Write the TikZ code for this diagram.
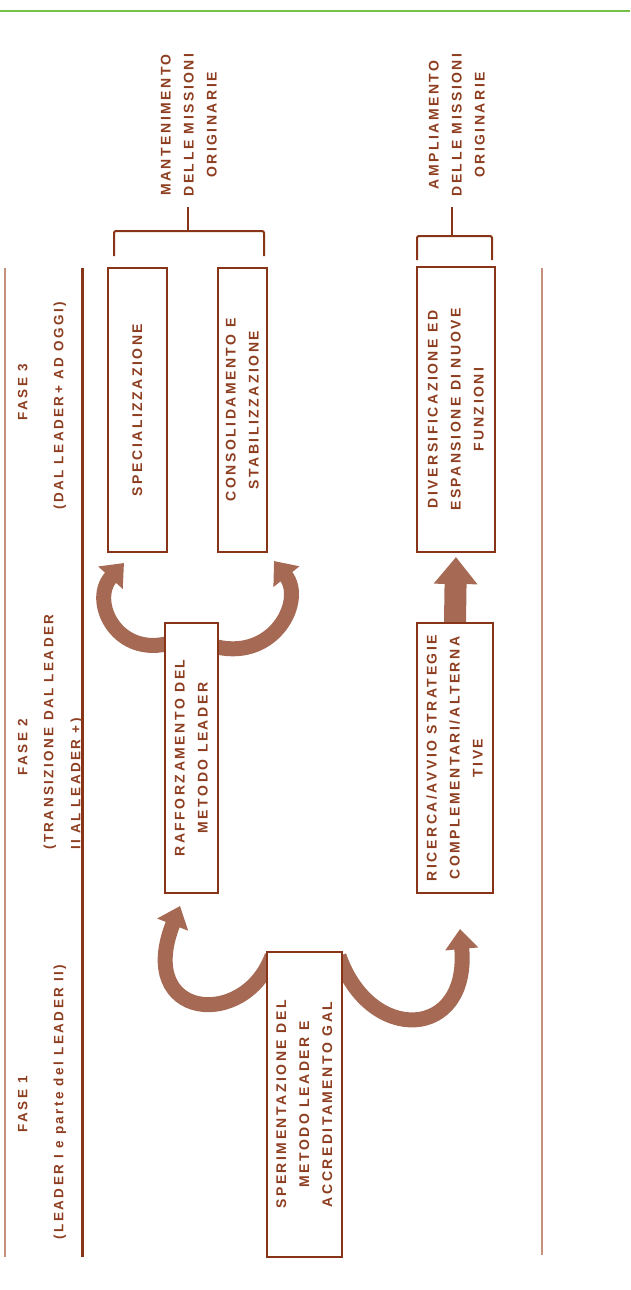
\documentclass[tikz,border=0pt]{standalone}
\usepackage{fontspec}
\newfontfamily\gafont{Liberation Sans}[LetterSpace=18]
\usetikzlibrary{arrows.meta,calc,backgrounds}
\definecolor{boxcol}{RGB}{135,52,24}
\definecolor{txtcol}{RGB}{142,62,32}
\definecolor{arrcol}{RGB}{166,106,84}
\definecolor{rulecol}{RGB}{199,144,124}
\definecolor{topgreen}{RGB}{119,192,75}
\newcommand{\vlab}[2][c]{\rotatebox{90}{\begin{tabular}{@{}#1@{}}#2\end{tabular}}}

\begin{document}
\begin{tikzpicture}[x=1pt, y=-1pt,
    every node/.style={font={\gafont\bfseries\fontsize{14}{23}\selectfont}, text=txtcol},
    stage/.style={draw=boxcol, line width=2pt, fill=white, inner sep=0pt},
    lbl/.style={inner sep=2pt},
    head/.style={inner sep=2pt, font={\gafont\bfseries\fontsize{13.5}{27}\selectfont}},
    clamp/.style={draw=boxcol, line width=2pt, rounded corners=2pt},
    curvearrow/.style={draw=arrcol, line width=15pt, -{Triangle[width=32pt,length=20pt]}},
    blockarrow/.style={draw=arrcol, line width=22pt, -{Triangle[width=42pt,length=27pt]}, shorten >=4pt}]
    \useasboundingbox (0,0) rectangle (630,1290);
    \draw[topgreen, line width=2.5pt] (0,11) -- (630,11);
    \draw[rulecol, line width=1.5pt] (5,268) -- (5,1257);
    \draw[boxcol, line width=3pt] (82,268) -- (82,1257);
    \draw[rulecol, line width=2.5pt] (542,268) -- (542,1255);

    \node[head] (f1) at (22,1104) {\vlab{FASE 1}};
    \node[head] (f1t) at (58,1102) {\vlab{(LEADER I e parte del LEADER II)}};
    \node[head] (f2) at (22,747) {\vlab{FASE 2}};
    \node[head, anchor=south] (f2t) at (61.5,852) {\vlab[l]{(TRANSIZIONE DAL LEADER\\II AL LEADER +)}};
    \node[head] (f3) at (22,392) {\vlab{FASE 3}};
    \node[head] (f3t) at (58,406) {\vlab{(DAL LEADER+ AD OGGI)}};

    \node[stage, minimum width=59pt, minimum height=284pt] (spec) at (137.5,410) {\vlab{SPECIALIZZAZIONE}};
    \node[stage, minimum width=49pt, minimum height=284pt] (consol) at (242.5,410) {\vlab{CONSOLIDAMENTO E\\STABILIZZAZIONE}};
    \node[stage, minimum width=78pt, minimum height=285pt] (divers) at (456,409.5) {\vlab{DIVERSIFICAZIONE ED\\ESPANSIONE DI NUOVE\\FUNZIONI}};
    \node[stage, minimum width=53pt, minimum height=270pt] (raff) at (191.5,758) {\vlab{RAFFORZAMENTO DEL\\METODO LEADER}};
    \node[stage, minimum width=76pt, minimum height=270pt] (ricerca) at (455,758) {\vlab{RICERCA/AVVIO STRATEGIE\\COMPLEMENTARI/ALTERNA\\TIVE}};
    \node[stage, minimum width=75pt, minimum height=305pt] (sper) at (304.5,1104.5) {\vlab{SPERIMENTAZIONE DEL\\METODO LEADER E\\ACCREDITAMENTO GAL}};

    \node[lbl] (mant) at (189,125) {\vlab{MANTENIMENTO\\DELLE MISSIONI\\ORIGINARIE}};
    \node[lbl] (ampl) at (457,125) {\vlab{AMPLIAMENTO\\DELLE MISSIONI\\ORIGINARIE}};

    \coordinate (mnub) at ($(spec.north west)!0.5!(consol.north east)+(0,-36)$);
    \coordinate (anub) at ($(divers.north)+(-4,-30)$);
    \draw[clamp] ($(spec.north west)+(7,-11)$) |- ($(consol.north east)+(-4,-36)$) -- ($(consol.north east)+(-4,-11)$);
    \draw[clamp, shorten >=8pt] (mnub) -- (mnub |- mant.south);
    \draw[clamp] ($(divers.north west)+(1,-6)$) |- ($(divers.north east)+(-4,-30)$) -- ($(divers.north east)+(-4,-6)$);
    \draw[clamp, shorten >=8pt] (anub) -- (anub |- ampl.south);

    \begin{scope}[on background layer]
        \draw[curvearrow] ($(sper.north west)+(6,5)$) .. controls (245,1030) and (135,1020) .. ($(raff.south west)+(16,12)$);
        \draw[curvearrow] ($(sper.north east)+(-4,5)$) .. controls (370,1045) and (470,1040) .. ($(ricerca.south)+(5,35)$);
        \draw[curvearrow] ($(raff.north west)+(2,22)$) .. controls (115,655) and (90,600) .. ($(spec.south west)+(17,10)$);
        \draw[curvearrow] ($(raff.north east)+(-2,25)$) .. controls (275,660) and (305,600) .. ($(consol.south east)+(6,8)$);
        \draw[blockarrow] (ricerca.north) -- (divers.south);
    \end{scope}
\end{tikzpicture}
\end{document}
